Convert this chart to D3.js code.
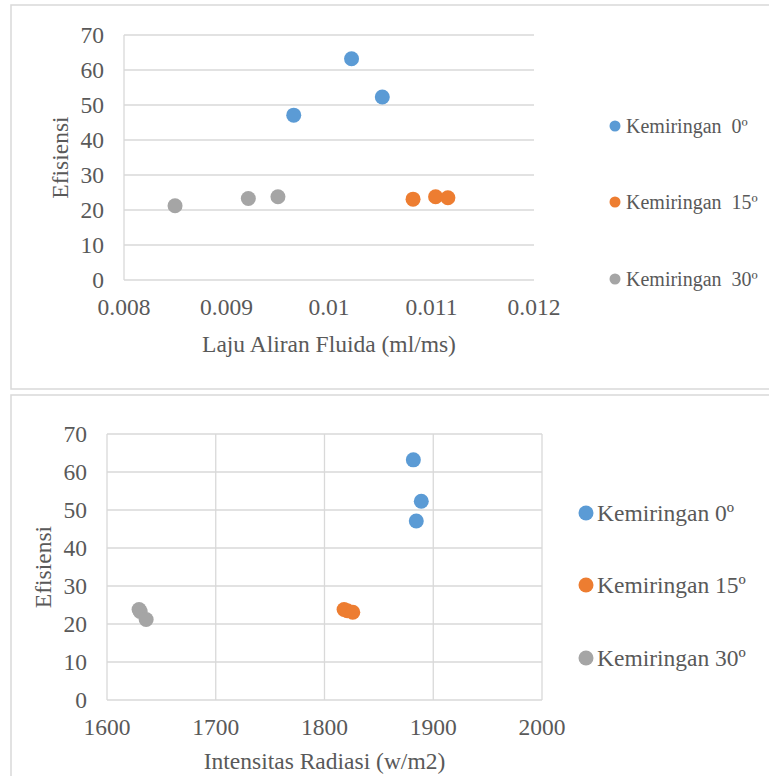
<!DOCTYPE html>
<html>
<head>
<meta charset="utf-8">
<script src="https://cdn.jsdelivr.net/npm/d3@7"></script>
<style>
  html, body { margin: 0; padding: 0; background: #fff; }
  svg text { font-family: "Liberation Serif", "Times New Roman", serif; fill: #595959; white-space: pre; }
</style>
</head>
<body>
<svg id="chart" width="769" height="776"></svg>
<script>
// ---- Data ----
const seriesNames = ["Kemiringan 0º", "Kemiringan 15º", "Kemiringan 30º"];
const seriesColors = ["#5B9BD5", "#ED7D31", "#A5A5A5"];

// Efisiensi per series
const eff0  = [63.2, 52.3, 47.1];
const eff15 = [23.8, 23.5, 23.1];
const eff30 = [23.8, 23.3, 21.2];

// Laju Aliran Fluida (ml/ms)
const flow0  = [0.01022, 0.01052, 0.009656];
const flow15 = [0.01104, 0.01116, 0.01082];
const flow30 = [0.009502, 0.009213, 0.008498];

// Intensitas Radiasi (w/m2)
const rad0  = [1881.7, 1889, 1884.4];
const rad15 = [1818, 1821, 1826];
const rad30 = [1629.5, 1630.5, 1636];

const yTicks = [0, 10, 20, 30, 40, 50, 60, 70];
const flowTicks = [0.008, 0.009, 0.010, 0.011, 0.012];
const flowTickLabels = ["0.008", "0.009", "0.01", "0.011", "0.012"];
const radTicks = [1600, 1700, 1800, 1900, 2000];
const radTickLabels = ["1600", "1700", "1800", "1900", "2000"];

const svg = d3.select("#chart");
const gridColor = "#D9D9D9";

function drawChart(opts) {
  const g = svg.append("g");
  // frame
  g.append("rect")
    .attr("x", opts.frame[0]).attr("y", opts.frame[1])
    .attr("width", opts.frame[2]).attr("height", opts.frame[3])
    .attr("fill", "#fff").attr("stroke", gridColor).attr("stroke-width", 1.5);

  const x = d3.scaleLinear().domain(opts.xDomain).range([opts.left, opts.right]);
  const y = d3.scaleLinear().domain([0, 70]).range([opts.bottom, opts.top]);

  // horizontal gridlines
  g.append("g").selectAll("line").data(yTicks).join("line")
    .attr("x1", opts.left).attr("x2", opts.right)
    .attr("y1", d => y(d)).attr("y2", d => y(d))
    .attr("stroke", gridColor).attr("stroke-width", 1.3);

  // vertical gridlines
  const vData = opts.vGrid ? opts.xTicks : [opts.xTicks[0]];
  g.append("g").selectAll("line").data(vData).join("line")
    .attr("x1", d => x(d)).attr("x2", d => x(d))
    .attr("y1", opts.top).attr("y2", opts.bottom)
    .attr("stroke", gridColor).attr("stroke-width", 1.3);

  // y tick labels
  g.append("g").selectAll("text").data(yTicks).join("text")
    .attr("x", opts.left - 20).attr("y", d => y(d))
    .attr("dy", "0.34em").attr("text-anchor", "end")
    .style("font-size", "23.5px").text(d => d);

  // x tick labels
  g.append("g").selectAll("text").data(opts.xTicks).join("text")
    .attr("x", d => x(d)).attr("y", opts.xLabelY)
    .attr("text-anchor", "middle")
    .style("font-size", "23.5px").text((d, i) => opts.xTickLabels[i]);

  // axis titles
  g.append("text")
    .attr("x", (opts.left + opts.right) / 2).attr("y", opts.xTitleY)
    .attr("text-anchor", "middle").style("font-size", "23.5px")
    .text(opts.xTitle);
  g.append("text")
    .attr("transform", `translate(${opts.yTitleX},${(opts.top + opts.bottom) / 2}) rotate(-90)`)
    .attr("text-anchor", "middle").style("font-size", "23.5px")
    .text("Efisiensi");

  // points
  opts.series.forEach((s, si) => {
    g.append("g").selectAll("circle").data(s.xs.map((v, i) => [v, s.ys[i]])).join("circle")
      .attr("cx", d => x(d[0])).attr("cy", d => y(d[1]))
      .attr("r", 7.5).attr("fill", seriesColors[si]);
  });

  // legend
  const lg = g.append("g");
  seriesNames.forEach((name, i) => {
    const ly = opts.legendY[i];
    lg.append("circle").attr("cx", opts.legendX).attr("cy", ly)
      .attr("r", opts.legendR).attr("fill", seriesColors[i]);
    lg.append("text").attr("x", opts.legendX + opts.legendGap).attr("y", ly)
      .attr("dy", "0.34em").style("font-size", opts.legendFont)
      .text(opts.legendSep ? name.replace(" ", opts.legendSep) : name);
  });
}

drawChart({
  frame: [11, 5, 775, 384],
  left: 124, right: 534, top: 35, bottom: 280,
  xDomain: [0.008, 0.012],
  xTicks: flowTicks, xTickLabels: flowTickLabels,
  vGrid: false,
  xLabelY: 315, xTitleY: 352, yTitleX: 68,
  xTitle: "Laju Aliran Fluida (ml/ms)",
  series: [
    {xs: flow0, ys: eff0},
    {xs: flow15, ys: eff15},
    {xs: flow30, ys: eff30}
  ],
  legendX: 615, legendY: [126, 202, 279], legendR: 5.5, legendGap: 11,
  legendFont: "20px", legendSep: "  "
});

drawChart({
  frame: [11, 395, 775, 400],
  left: 107, right: 542, top: 434, bottom: 700,
  xDomain: [1600, 2000],
  xTicks: radTicks, xTickLabels: radTickLabels,
  vGrid: true,
  xLabelY: 735, xTitleY: 769, yTitleX: 51,
  xTitle: "Intensitas Radiasi (w/m2)",
  series: [
    {xs: rad0, ys: eff0},
    {xs: rad15, ys: eff15},
    {xs: rad30, ys: eff30}
  ],
  legendX: 586, legendY: [513, 585, 658], legendR: 7.5, legendGap: 11,
  legendFont: "23.5px", legendSep: null
});
</script>
</body>
</html>
